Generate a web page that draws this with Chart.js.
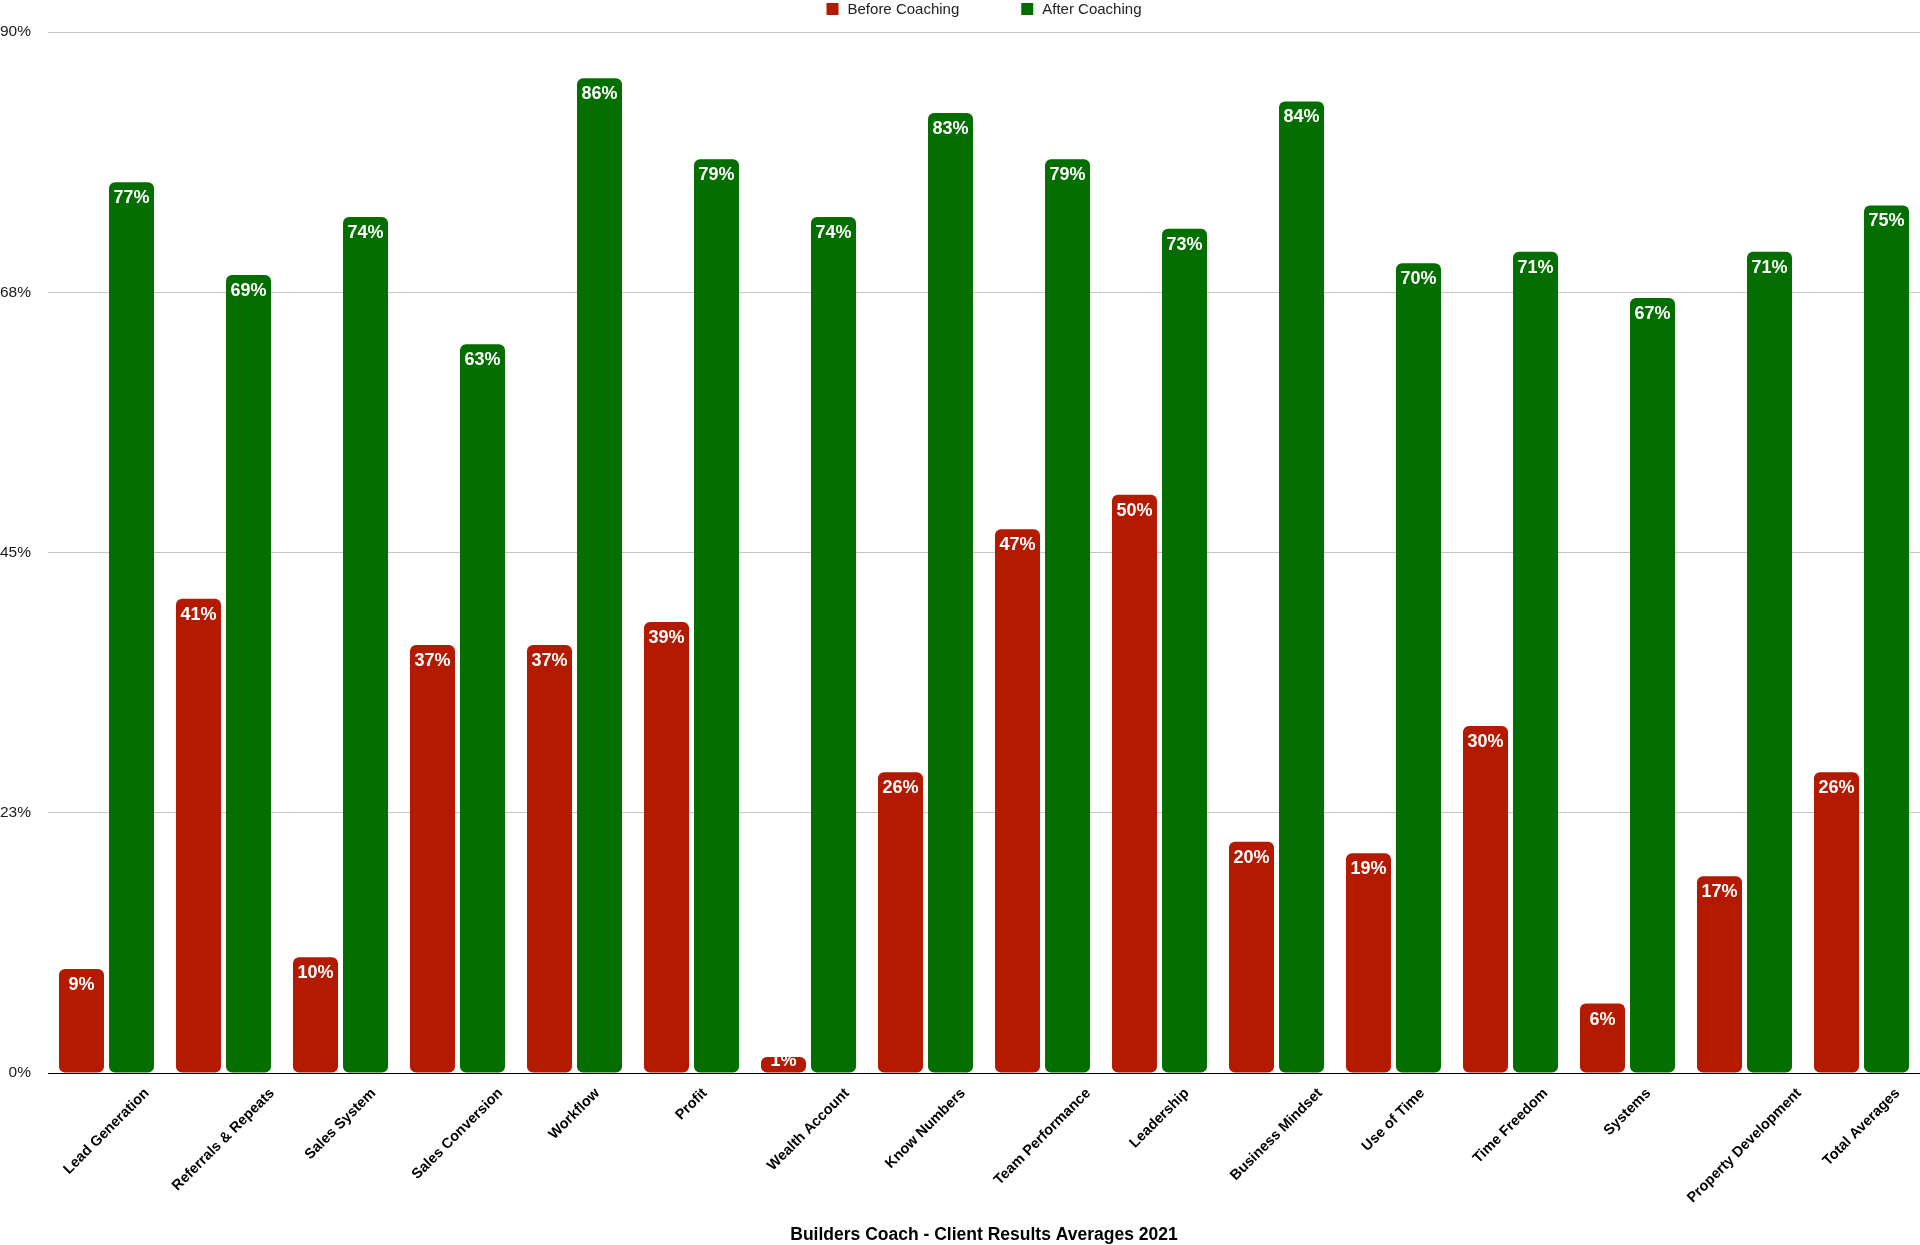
<!DOCTYPE html>
<html><head><meta charset="utf-8">
<script src="https://cdn.jsdelivr.net/npm/chart.js@4"></script>
<style>html,body{margin:0;padding:0;background:#fff;overflow:hidden}</style>
</head><body>
<canvas id="c" width="1920" height="1245" style="display:block;width:1920px;height:1245px"></canvas>
<script>
const categories = ['Lead Generation','Referrals & Repeats','Sales System','Sales Conversion','Workflow','Profit','Wealth Account','Know Numbers','Team Performance','Leadership','Business Mindset','Use of Time','Time Freedom','Systems','Property Development','Total Averages'];
const beforeValues = [9, 41, 10, 37, 37, 39, 1, 26, 47, 50, 20, 19, 30, 6, 17, 26];
const afterValues  = [77, 69, 74, 63, 86, 79, 74, 83, 79, 73, 84, 70, 71, 67, 71, 75];
const seriesNames = ['Before Coaching', 'After Coaching'];
const seriesColors = ['#b31a00', '#046e00'];
const yTickValues = [0, 22.5, 45, 67.5, 90];
const chartTitle = 'Builders Coach - Client Results Averages 2021';

const FONT = 'Liberation Sans, Arial, Helvetica, sans-serif';

const valueLabels = {
  id: 'valueLabels',
  afterDatasetsDraw(chart) {
    const ctx = chart.ctx;
    const base = chart.scales.y.getPixelForValue(0);
    ctx.save();
    ctx.font = 'bold 18px ' + FONT;
    ctx.fillStyle = '#ffffff';
    ctx.textAlign = 'center';
    ctx.textBaseline = 'middle';
    chart.data.datasets.forEach((ds, di) => {
      const meta = chart.getDatasetMeta(di);
      meta.data.forEach((bar, i) => {
        const y = Math.min(bar.y + 16, base - 12);
        ctx.fillText(Math.round(ds.data[i]) + '%', bar.x, y);
      });
    });
    ctx.restore();
  }
};

const rotatedXLabels = {
  id: 'rotatedXLabels',
  afterDraw(chart) {
    const ctx = chart.ctx;
    const xs = chart.scales.x;
    const axisY = chart.chartArea.bottom;
    const c = Math.SQRT1_2;
    ctx.save();
    ctx.font = 'bold 14.5px ' + FONT;
    ctx.fillStyle = '#000000';
    ctx.textAlign = 'right';
    ctx.textBaseline = 'middle';
    categories.forEach((lab, i) => {
      const cx = xs.getPixelForValue(i);
      const w = ctx.measureText(lab).width;
      const ax = cx + w * c / 2;
      const ay = axisY + 18;
      ctx.save();
      ctx.translate(ax, ay);
      ctx.rotate(-Math.PI / 4);
      ctx.fillText(lab, 0, 0);
      ctx.restore();
    });
    ctx.restore();
  }
};

const topLegend = {
  id: 'topLegend',
  afterDraw(chart) {
    const ctx = chart.ctx;
    const ca = chart.chartArea;
    ctx.save();
    ctx.font = '15px ' + FONT;
    const box = 12, gapText = 9, gapItem = 62;
    const widths = seriesNames.map(n => ctx.measureText(n).width);
    let total = 0;
    widths.forEach((w, i) => { total += box + gapText + w + (i < widths.length - 1 ? gapItem : 0); });
    let x = (ca.left + ca.right) / 2 - total / 2;
    ctx.textBaseline = 'alphabetic';
    ctx.textAlign = 'left';
    seriesNames.forEach((n, i) => {
      ctx.fillStyle = seriesColors[i];
      ctx.fillRect(x, 3, box, box);
      ctx.fillStyle = '#222222';
      ctx.fillText(n, x + box + gapText, 13.5);
      x += box + gapText + widths[i] + gapItem;
    });
    ctx.restore();
  }
};

new Chart(document.getElementById('c'), {
  type: 'bar',
  data: {
    labels: categories,
    datasets: [
      { label: seriesNames[0], data: beforeValues, backgroundColor: seriesColors[0] },
      { label: seriesNames[1], data: afterValues, backgroundColor: seriesColors[1] }
    ]
  },
  options: {
    responsive: false,
    animation: false,
    devicePixelRatio: 1,
    layout: { padding: { top: 32, left: 0, right: 0, bottom: 0 } },
    datasets: {
      bar: {
        barPercentage: 0.9,
        categoryPercentage: 0.855,
        borderRadius: 6,
        borderSkipped: false,
        minBarLength: 16
      }
    },
    scales: {
      x: {
        grid: { display: false, drawTicks: false },
        border: { display: false },
        ticks: { display: false }
      },
      y: {
        min: 0,
        max: 90,
        afterBuildTicks: (s) => { s.ticks = yTickValues.map(v => ({ value: v })); },
        afterFit: (s) => { s.width = 48; },
        grid: {
          drawTicks: false,
          color: (ctx) => (ctx.tick && ctx.tick.value === 0) ? '#000000' : '#c4c4c4',
          lineWidth: 1
        },
        border: { display: false },
        ticks: {
          padding: 17,
          color: '#1a1a1a',
          font: { family: FONT, size: 15.5 },
          callback: (v) => Math.round(v) + '%'
        }
      }
    },
    plugins: {
      legend: { display: false },
      tooltip: { enabled: false },
      title: {
        display: true,
        text: chartTitle,
        position: 'bottom',
        fullSize: false,
        color: '#000000',
        font: { family: FONT, size: 17.5, weight: 'bold', lineHeight: 1.1 },
        padding: { top: 152.75, bottom: 0 }
      }
    }
  },
  plugins: [valueLabels, rotatedXLabels, topLegend]
});
</script>
</body></html>
